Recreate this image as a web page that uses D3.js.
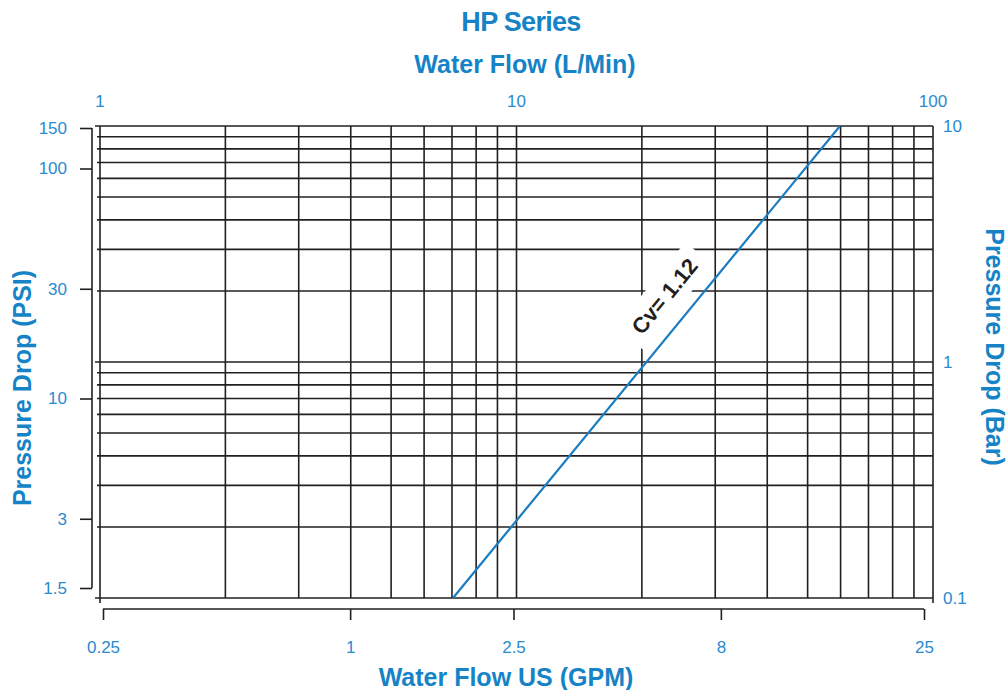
<!DOCTYPE html>
<html>
<head>
<meta charset="utf-8">
<script src="https://cdn.jsdelivr.net/npm/d3@7"></script>
<style>
  body { margin: 0; background: #fff; }
  svg text { font-family: "Liberation Sans", Arial, sans-serif; }
</style>
</head>
<body>
<svg id="chart" width="1008" height="690"></svg>
<script>
// grid values (L/Min verticals, Bar horizontals)
var lpmGrid = [1, 2, 3, 4, 5, 6, 7, 8, 9, 10, 20, 30, 40, 50, 60, 70, 80, 90, 100];
var barGrid = [0.1, 0.2, 0.3, 0.4, 0.5, 0.6, 0.7, 0.8, 0.9, 1, 2, 3, 4, 5, 6, 7, 8, 9, 10];

// tick labels
var lpmTicks = [1, 10, 100];
var barTicks = [0.1, 1, 10];
var psiTicks = [1.5, 3, 10, 30, 100, 150];
var gpmTicks = [0.25, 1, 2.5, 8, 25];

// Cv = 1.12 line
var cvFlowLpm = [7.04, 59.8];
var cvPressureBar = [0.1, 10];
var cvLabel = "Cv= 1.12";

var blue = "#1683c6", tickBlue = "#2a8ad0", ink = "#231f20";

var svg = d3.select("#chart");

var xLpm = d3.scaleLog().domain([1, 100]).range([100, 933]);
var yBar = d3.scaleLog().domain([0.1, 10]).range([598, 126]);
var yPsi = d3.scaleLog().domain([1.5, 150]).range([588, 128]);
var xGpm = d3.scaleLog().domain([0.25, 25]).range([103, 924]);

// titles
svg.append("text").attr("x", 521).attr("y", 31).attr("text-anchor", "middle")
    .attr("font-size", 27).attr("font-weight", "bold").attr("fill", blue)
    .attr("letter-spacing", -0.7).text("HP Series");
svg.append("text").attr("x", 525).attr("y", 73).attr("text-anchor", "middle")
    .attr("font-size", 25).attr("font-weight", "bold").attr("fill", blue).text("Water Flow (L/Min)");
svg.append("text").attr("x", 506).attr("y", 686).attr("text-anchor", "middle")
    .attr("font-size", 25).attr("font-weight", "bold").attr("fill", blue).text("Water Flow US (GPM)");
svg.append("text").attr("transform", "translate(31,388) rotate(-90)").attr("text-anchor", "middle")
    .attr("font-size", 25).attr("font-weight", "bold").attr("fill", blue).text("Pressure Drop (PSI)");
svg.append("text").attr("transform", "translate(986,347) rotate(90)").attr("text-anchor", "middle")
    .attr("font-size", 25).attr("font-weight", "bold").attr("fill", blue).text("Pressure Drop (Bar)");

// grid
var grid = svg.append("g").attr("stroke", ink).attr("stroke-width", 1.6);
grid.selectAll("line.v").data(lpmGrid).enter().append("line")
    .attr("class", "v")
    .attr("x1", function(d) { return xLpm(d); }).attr("x2", function(d) { return xLpm(d); })
    .attr("y1", yBar(10)).attr("y2", function(d) { return (d == 1 || d == 100) ? yBar(0.1) + 5 : yBar(0.1); });
grid.selectAll("line.h").data(barGrid).enter().append("line")
    .attr("class", "h")
    .attr("x1", function(d) { return (d == 10 || d == 1 || d == 0.1) ? xLpm(1) - 5 : xLpm(1) - 3; })
    .attr("x2", xLpm(100))
    .attr("y1", function(d) { return yBar(d); }).attr("y2", function(d) { return yBar(d); });

// top labels (L/Min)
svg.append("g").selectAll("text").data(lpmTicks).enter().append("text")
    .attr("x", function(d) { return xLpm(d); }).attr("y", 107)
    .attr("text-anchor", "middle").attr("font-size", 17).attr("fill", tickBlue)
    .text(function(d) { return d; });

// right labels (Bar)
svg.append("g").selectAll("text").data(barTicks).enter().append("text")
    .attr("x", 943).attr("y", function(d) { return yBar(d); }).attr("dy", "0.35em")
    .attr("font-size", 17).attr("fill", tickBlue)
    .text(function(d) { return d; });

// left PSI axis
var gPsi = svg.append("g").attr("transform", "translate(92,0)")
    .call(d3.axisLeft(yPsi).tickValues(psiTicks).tickSize(12).tickSizeOuter(0).tickPadding(13)
        .tickFormat(function(d) { return d; }));

// bottom GPM axis
var gGpm = svg.append("g").attr("transform", "translate(0,609)")
    .call(d3.axisBottom(xGpm).tickValues(gpmTicks).tickSize(11).tickSizeOuter(0).tickPadding(21)
        .tickFormat(function(d) { return d; }));

[gPsi, gGpm].forEach(function(g) {
    g.attr("font-size", 17).attr("font-family", "Liberation Sans, Arial, sans-serif");
    g.select(".domain").attr("stroke", ink).attr("stroke-width", 1.6);
    g.selectAll(".tick line").attr("stroke", ink).attr("stroke-width", 1.6);
    g.selectAll(".tick text").attr("fill", tickBlue);
});
gPsi.select(".domain").attr("d", "M0," + yPsi(150) + "V" + yPsi(1.5));
gGpm.select(".domain").attr("d", "M" + xGpm(0.25) + ",0H" + xGpm(25));

// Cv line
var cvPts = cvFlowLpm.map(function(f, i) { return [xLpm(f), yBar(cvPressureBar[i])]; });
var ang = Math.atan2(cvPts[1][1] - cvPts[0][1], cvPts[1][0] - cvPts[0][0]) * 180 / Math.PI;

// label beside the line, at bar value 1.6
var t = (Math.log10(1.6) - Math.log10(cvPressureBar[0])) / (Math.log10(cvPressureBar[1]) - Math.log10(cvPressureBar[0]));
var lx = cvPts[0][0] + t * (cvPts[1][0] - cvPts[0][0]);
var ly = cvPts[0][1] + t * (cvPts[1][1] - cvPts[0][1]);
var lab = svg.append("g").attr("transform", "translate(" + lx + "," + ly + ") rotate(" + ang + ")");
lab.append("rect").attr("x", -55).attr("y", -46).attr("width", 110).attr("height", 36).attr("fill", "#fff");
lab.append("text").attr("x", 0).attr("y", -20).attr("text-anchor", "middle")
    .attr("font-size", 22).attr("font-weight", "bold").attr("fill", ink).text(cvLabel);

svg.append("path").datum(cvPts)
    .attr("d", d3.line())
    .attr("fill", "none").attr("stroke", "#1a7cc2").attr("stroke-width", 2.2);
</script>
</body>
</html>
